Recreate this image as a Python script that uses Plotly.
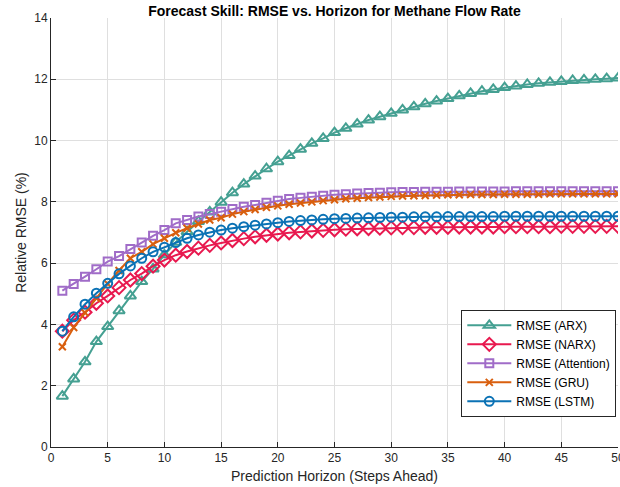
import plotly.graph_objects as go

# Forecast horizon (steps ahead)
steps = list(range(1, 51))

rmse_arx = [1.66, 2.22, 2.78, 3.44, 3.93, 4.45, 4.93, 5.40, 5.81, 6.27,
            6.68, 7.03, 7.36, 7.67, 7.99, 8.30, 8.58, 8.84, 9.08, 9.31,
            9.51, 9.72, 9.91, 10.07, 10.26, 10.40, 10.54, 10.67, 10.78, 10.89,
            11.00, 11.10, 11.20, 11.29, 11.37, 11.46, 11.54, 11.61, 11.67, 11.73,
            11.78, 11.83, 11.87, 11.90, 11.93, 11.96, 11.98, 12.00, 12.02, 12.04]

rmse_narx = [3.78, 4.14, 4.40, 4.69, 4.93, 5.20, 5.45, 5.66, 5.90, 6.10,
             6.26, 6.38, 6.49, 6.58, 6.66, 6.74, 6.80, 6.86, 6.91, 6.95,
             6.99, 7.02, 7.05, 7.07, 7.09, 7.11, 7.12, 7.13, 7.14, 7.15,
             7.16, 7.16, 7.17, 7.17, 7.17, 7.18, 7.18, 7.18, 7.18, 7.19,
             7.19, 7.19, 7.19, 7.19, 7.20, 7.20, 7.20, 7.20, 7.20, 7.20]

rmse_attention = [5.10, 5.32, 5.56, 5.80, 6.05, 6.23, 6.46, 6.67, 6.89, 7.08,
                  7.30, 7.41, 7.52, 7.60, 7.68, 7.77, 7.84, 7.90, 7.97, 8.04,
                  8.09, 8.13, 8.17, 8.20, 8.23, 8.25, 8.27, 8.29, 8.30, 8.31,
                  8.32, 8.32, 8.33, 8.33, 8.33, 8.34, 8.34, 8.34, 8.34, 8.34,
                  8.35, 8.35, 8.35, 8.35, 8.35, 8.35, 8.35, 8.35, 8.35, 8.35]

rmse_gru = [3.27, 3.90, 4.38, 4.85, 5.33, 5.76, 6.16, 6.37, 6.62, 6.81,
            6.99, 7.14, 7.28, 7.41, 7.48, 7.60, 7.68, 7.75, 7.82, 7.87,
            7.92, 7.96, 8.00, 8.04, 8.07, 8.10, 8.12, 8.14, 8.16, 8.18,
            8.19, 8.20, 8.21, 8.22, 8.23, 8.23, 8.24, 8.24, 8.24, 8.25,
            8.25, 8.25, 8.25, 8.26, 8.26, 8.26, 8.26, 8.26, 8.26, 8.26]

rmse_lstm = [3.78, 4.25, 4.66, 5.02, 5.34, 5.65, 5.91, 6.16, 6.37, 6.52,
             6.67, 6.81, 6.92, 7.01, 7.08, 7.14, 7.19, 7.24, 7.28, 7.32,
             7.36, 7.39, 7.41, 7.43, 7.45, 7.46, 7.47, 7.48, 7.49, 7.50,
             7.50, 7.51, 7.51, 7.51, 7.52, 7.52, 7.52, 7.52, 7.52, 7.53,
             7.53, 7.53, 7.53, 7.53, 7.53, 7.53, 7.53, 7.53, 7.53, 7.53]

x_ticks = [0, 5, 10, 15, 20, 25, 30, 35, 40, 45, 50]
y_ticks = [0, 2, 4, 6, 8, 10, 12, 14]

series = [
    ("RMSE (ARX)", rmse_arx, "#45A092", "triangle-up-open", 10),
    ("RMSE (NARX)", rmse_narx, "#E8194F", "diamond-open", 10),
    ("RMSE (Attention)", rmse_attention, "#A06CC8", "square-open", 8),
    ("RMSE (GRU)", rmse_gru, "#D95F0E", "x-thin-open", 7),
    ("RMSE (LSTM)", rmse_lstm, "#0B72B5", "circle-open", 9),
]

fig = go.Figure()
for name, vals, color, sym, size in series:
    fig.add_trace(go.Scatter(
        x=steps, y=vals, name=name, mode="lines+markers",
        line=dict(color=color, width=2),
        marker=dict(symbol=sym, size=size, color=color,
                    line=dict(color=color, width=2)),
    ))

font_family = "Liberation Sans, Arial"
axis_common = dict(
    showgrid=True, gridcolor="#DFDFDF", gridwidth=1,
    showline=True, linecolor="#262626", linewidth=1,
    ticks="inside", ticklen=5, tickcolor="#262626",
    tickfont=dict(family=font_family, size=12, color="#262626"),
    ticklabeloverflow="allow",
    automargin=False,
    zeroline=False,
)

fig.update_layout(
    width=620, height=487,
    margin=dict(l=51, r=2, t=18, b=40),
    paper_bgcolor="white", plot_bgcolor="white",
    title=dict(text="<b>Forecast Skill: RMSE vs. Horizon for Methane Flow Rate</b>",
               x=0.5, xanchor="center", xref="paper", y=0.978, yanchor="middle",
               font=dict(family=font_family, size=14, color="#000000")),
    xaxis=dict(range=[0, 50], tickvals=x_ticks,
               title=dict(text="Prediction Horizon (Steps Ahead)", standoff=6,
                          font=dict(family=font_family, size=14, color="#262626")),
               **axis_common),
    yaxis=dict(range=[0, 14], tickvals=y_ticks,
               title=dict(text="Relative RMSE (%)", standoff=4,
                          font=dict(family=font_family, size=14, color="#262626")),
               **axis_common),
    legend=dict(x=0.997, y=0.195, xanchor="right", yanchor="middle",
                bgcolor="white", bordercolor="#262626", borderwidth=1,
                font=dict(family=font_family, size=12, color="#000000"),
                tracegroupgap=0, itemwidth=44, itemsizing="trace"),
    showlegend=True,
)

fig.write_html("out.html")
